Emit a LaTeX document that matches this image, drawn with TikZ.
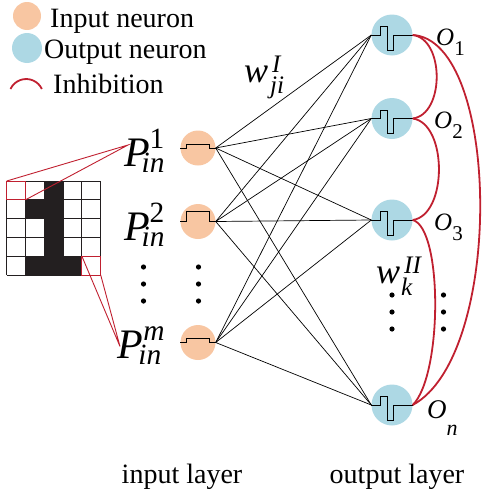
\documentclass[tikz,border=0pt]{standalone}
\usepackage{fontspec}
\usepackage{amsmath}
\setmainfont{Liberation Serif}
\usetikzlibrary{positioning,calc}
\definecolor{inorange}{RGB}{248,198,162}
\definecolor{outblue}{RGB}{173,216,228}
\definecolor{inhred}{RGB}{192,32,48}
\definecolor{pixel}{RGB}{35,31,32}
\newcommand{\olab}[1]{\textit{O}\raisebox{-10pt}{\fontsize{21}{21}\selectfont #1}}

\begin{document}
\begin{tikzpicture}[x=1pt,y=-1pt,
    inneuron/.style={circle, fill=inorange, minimum size=35, inner sep=0},
    outneuron/.style={circle, fill=outblue, minimum size=41, inner sep=0},
    txt/.style={font=\fontsize{28}{30}\selectfont, inner sep=0},
    plabel/.style={font=\fontsize{42}{42}\selectfont, inner sep=0},
    olabel/.style={font=\fontsize{25}{25}\selectfont, inner sep=0, anchor=base west},
    wlabel/.style={font=\fontsize{36}{36}\selectfont, inner sep=0, anchor=base west},
    inhib/.style={inhred, line width=1.8}]
    \useasboundingbox (0,0) rectangle (484,498);
    % Legend
    \node[inneuron, minimum size=28] (legin) at (27,16) {};
    \node[outneuron, minimum size=30] (legout) at (27,48) {};
    \node[txt, anchor=base west] (legintxt) at (50,27) {Input neuron};
    \node[txt, anchor=base west] (legouttxt) at (44,58) {Output neuron};
    \node[txt, anchor=base west] (leginhtxt) at (53,93) {Inhibition};
    \draw[inhib] (10.5,89) arc[start angle=205, end angle=335, radius=17.3];
    % Input pattern
    \begin{scope}[shift={(6.7,181)}]
        \foreach \r/\c in {0/2,1/1,1/2,2/2,3/2,4/1,4/2,4/3}
            \fill[pixel] (\c*18.8,\r*18.8) rectangle ++(18.8,18.8);
        \foreach \i in {0,...,5} {
            \draw[pixel, line width=0.9] (\i*18.8,0) -- (\i*18.8,94);
            \draw[pixel, line width=0.9] (0,\i*18.8) -- (94,\i*18.8);
        }
        \draw[inhred, line width=0.9] (0,0) rectangle (18.8,18.8);
        \draw[inhred, line width=0.9] (75.2,75.2) rectangle (94,94);
        \coordinate (firsta) at (0,0);
        \coordinate (firstb) at (18.8,18.8);
        \coordinate (lasta) at (75.2,75.2);
        \coordinate (lastb) at (94,94);
    \end{scope}
    \coordinate (firsttip) at (128,145);
    \coordinate (lasttip) at (120,346.5);
    \draw[inhred, line width=0.9] (firsta) -- (firsttip) -- (firstb);
    \draw[inhred, line width=0.9] (lasta) -- (lasttip) -- (lastb);
    % Neurons
    \foreach \n/\y in {1/148, 2/221.5, m/342.5}
        \node[inneuron] (in\n) at (198,\y) {};
    \foreach \n/\y in {1/35, 2/118.5, 3/220, n/405}
        \node[outneuron] (out\n) at (392,\y) {};
    % Weights
    \foreach \i in {1,2,m}
        \foreach \o in {1,2,3,n}
            \draw[line width=0.7] (in\i.east) -- (out\o.west);
    % Pulses
    \foreach \i/\h in {1/3.5, 2/10, m/4}
        \draw[line width=0.8] (in\i.west) -- ++(6,0) -- ++(0,-\h) -- ++(23.5,0) -- ++(0,\h) -- (in\i.east);
    \foreach \o in {1,2,3,n}
        \draw[line width=0.9] (out\o.west) -- ++(9,0) -- ++(0,-8.5) -- ++(7.5,0) -- ++(0,23.5) -- ++(6,0) -- ++(0,-15) -- (out\o.east);
    % Inhibition
    \draw[inhib] (out1.east) .. controls +(32,4) and +(32,-4) .. (out2.east);
    \draw[inhib] (out2.east) .. controls +(35,5) and +(35,-5) .. (out3.east);
    \draw[inhib] (out3.east) .. controls +(30,8) and +(30,-30) .. (outn.east);
    \draw[inhib] (out1.east) .. controls +(88,5) and +(92,-50) .. (outn.east);
    % Labels
    \node[plabel, left=15 of in1, yshift=-3] (lab1) {$\textit{P}^{\textrm{1}}_{\kern-8pt\textit{in}}$};
    \node[plabel, left=15 of in2, yshift=-3] (lab2) {$\textit{P}^{\textrm{2}}_{\kern-8pt\textit{in}}$};
    \node[plabel, left=15 of inm, yshift=-3] (labm) {$\textit{P}^{\textit{m}}_{\kern-5pt\textit{in}}$};
    \node[olabel] (lo1) at (436,45) {\olab{1}};
    \node[olabel] (lo2) at (434,128) {\olab{2}};
    \node[olabel] (lo3) at (434,230) {\olab{3}};
    \node[olabel, font=\fontsize{27}{27}\selectfont] (lon) at (427,418) {\textit{O}\raisebox{-17pt}{\fontsize{22}{22}\selectfont\textit{n}}};
    \node[wlabel] (wi) at (244,82) {$\textit{w}^{\kern4pt\textit{I}}_{\kern2pt\textit{ji}}$};
    \node[wlabel] (wii) at (376,283) {$\textit{w}^{\kern4pt\textit{II}}_{\kern1pt\textit{k}}$};
    % Dots
    \foreach \x/\y in {143.5/267, 198.5/267, 392/295, 443.5/295}
        \foreach \d in {0,17,34}
            \fill (\x,\y+\d) circle[radius=2.6];
    \node[txt, anchor=base] (inlayer) at (182,483) {input layer};
    \node[txt, anchor=base] (outlayer) at (397,483) {output layer};
\end{tikzpicture}
\end{document}
